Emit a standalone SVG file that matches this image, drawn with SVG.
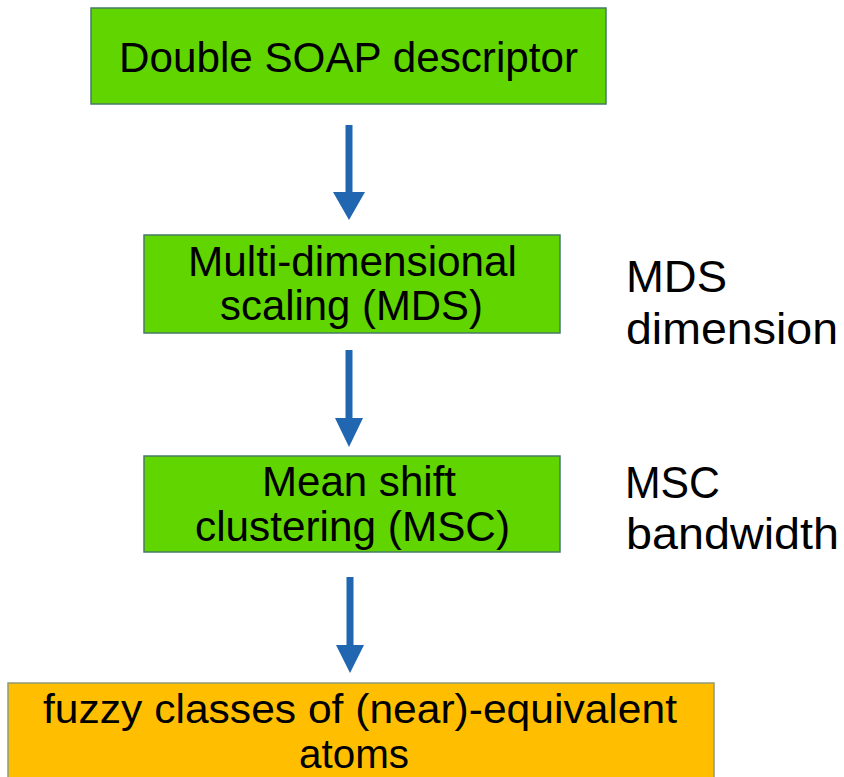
<svg xmlns="http://www.w3.org/2000/svg" width="844" height="777" viewBox="0 0 844 777">
<style>
  .box { fill: #60d500; stroke: #457a66; stroke-width: 1.5; }
  .out { fill: #ffbf00; stroke: #8f9a76; stroke-width: 1.5; }
  text { font-family: "Liberation Sans", Arial, sans-serif; fill: #000; }
  .arrow { fill: #2066b0; }
</style>
<rect width="844" height="777" fill="#fff"/>
<g id="node-soap">
  <rect class="box" x="91" y="8" width="515" height="96"/>
  <text x="119" y="72" font-size="42" textLength="459" lengthAdjust="spacingAndGlyphs">Double SOAP descriptor</text>
</g>
<g id="node-mds">
  <rect class="box" x="144" y="235" width="416" height="98"/>
  <text x="188" y="276" font-size="42" textLength="329" lengthAdjust="spacingAndGlyphs">Multi-dimensional</text>
  <text x="220" y="320" font-size="42" textLength="263" lengthAdjust="spacingAndGlyphs">scaling (MDS)</text>
</g>
<g id="node-msc">
  <rect class="box" x="144" y="456" width="416" height="96"/>
  <text x="262" y="496" font-size="42" textLength="194" lengthAdjust="spacingAndGlyphs">Mean shift</text>
  <text x="195" y="541" font-size="42" textLength="315" lengthAdjust="spacingAndGlyphs">clustering (MSC)</text>
</g>
<g id="node-out">
  <rect class="out" x="8" y="683" width="706" height="104"/>
  <text x="43" y="723" font-size="41" textLength="634" lengthAdjust="spacingAndGlyphs">fuzzy classes of (near)-equivalent</text>
  <text x="299" y="768" font-size="41" textLength="110" lengthAdjust="spacingAndGlyphs">atoms</text>
</g>
<g id="label-mds">
  <text x="626" y="292" font-size="44" textLength="101" lengthAdjust="spacingAndGlyphs">MDS</text>
  <text x="626" y="344" font-size="44" textLength="212" lengthAdjust="spacingAndGlyphs">dimension</text>
</g>
<g id="label-msc">
  <text x="625" y="498" font-size="44" textLength="95" lengthAdjust="spacingAndGlyphs">MSC</text>
  <text x="626" y="549" font-size="44" textLength="213" lengthAdjust="spacingAndGlyphs">bandwidth</text>
</g>
<g id="connectors">
  <path class="arrow" d="M345.5,125 H352.5 V192 H365 L349,220 L333,192 H345.5 Z"/>
  <path class="arrow" d="M345.5,350 H352.5 V418 H363 L349,447 L335,418 H345.5 Z"/>
  <path class="arrow" d="M346.5,577 H353.5 V645 H364 L350,673 L336,645 H346.5 Z"/>
</g>
</svg>
